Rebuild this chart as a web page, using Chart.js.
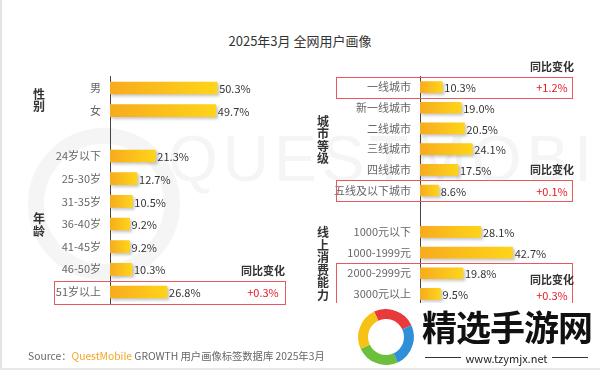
<!DOCTYPE html>
<html>
<head>
<meta charset="utf-8">
<script src="https://cdn.jsdelivr.net/npm/chart.js@4.4.1/dist/chart.umd.min.js"></script>
<style>
  body { margin: 0; background: #fff; }
  #wrap { position: relative; width: 600px; height: 371px; overflow: hidden; background: #fff;
          font-family: "Noto Sans CJK SC", "Noto Sans", sans-serif; }
  #wrap:before { content: ""; position: absolute; left: 0; top: 0; bottom: 2px; width: 2px; background: #e4e4e4; }
  #wrap:after { content: ""; position: absolute; left: 0; right: 0; bottom: 1px; height: 2px; background: #e8e8e8; }
  .ring { position: absolute; left: 28px; top: 128px; width: 120px; height: 120px; border-radius: 50%;
          border: 16px solid #f5f5f5; }
  .wm { position: absolute; left: 168px; top: 122px; font-size: 64px; letter-spacing: 5px; color: #f5f5f5;
        font-family: "Liberation Sans", sans-serif; }
  #title { position: absolute; left: 0; width: 600px; top: 31px; text-align: center; font-size: 13px; color: #333; }
  .panel { position: absolute; top: 0; width: 300px; height: 371px; }
  #source { position: absolute; left: 28px; top: 348px; font-size: 10.3px; color: #666; white-space: nowrap; }
  #source b { font-weight: normal; color: #f5a623; }
  #stamp { position: absolute; left: 330px; top: 303px; width: 270px; height: 66px; background: #fff; }
  #stamp .logo { position: absolute; left: 28px; top: 6px; width: 36px; height: 36px; border-radius: 50%;
                 border: 10px solid; border-color: #e83a3a #2f8fd8 #6cbf3a #f6c216; transform: rotate(20deg); }
  #stamp .name { position: absolute; left: 92px; top: -3px; font-size: 35px; font-weight: bold; color: #111; letter-spacing: -1px; }
  #stamp .url { position: absolute; left: 95px; top: 47px; width: 163px; text-align: center; font-size: 11px; color: #222; }
  #stamp .url:before, #stamp .url:after { content: ""; position: absolute; top: 7px; width: 36px; height: 1px; background: #333; }
  #stamp .url:before { left: 0; }
  #stamp .url:after { right: 0; }
</style>
</head>
<body>
<div id="wrap">
  <div class="ring"></div>
  <div class="wm">QUESTMOBILE</div>
  <div id="title">2025年3月 全网用户画像</div>
  <div class="panel" style="left:0"><canvas id="leftChart" width="300" height="371"></canvas></div>
  <div class="panel" style="left:300px"><canvas id="rightChart" width="300" height="371"></canvas></div>
  <div id="source">Source：<b>QuestMobile</b> GROWTH 用户画像标签数据库 2025年3月</div>
  <div id="stamp"><div class="logo"></div><div class="name">精选手游网</div><div class="url">www.tzymjx.net</div></div>
</div>
<script>
// left panel: gender + age
const leftLabels = ['男', '女', '', '24岁以下', '25-30岁', '31-35岁', '36-40岁', '41-45岁', '46-50岁', '51岁以上'];
const leftValues = [50.3, 49.7, null, 21.3, 12.7, 10.5, 9.2, 9.2, 10.3, 26.8];
const leftGroups = [['性别', '男', '女'], ['年龄', '24岁以下', '51岁以上']];
const leftChanges = [['51岁以上', '51岁以上', '+0.3%']];

// right panel: city tier + online spending
const rightLabels = ['一线城市', '新一线城市', '二线城市', '三线城市', '四线城市', '五线及以下城市', '',
                     '1000元以下', '1000-1999元', '2000-2999元', '3000元以上'];
const rightValues = [10.3, 19.0, 20.5, 24.1, 17.5, 8.6, null, 28.1, 42.7, 19.8, 9.5];
const rightGroups = [['城市等级', '一线城市', '五线及以下城市'], ['线上消费能力', '1000元以下', '3000元以上']];
const rightChanges = [['一线城市', '一线城市', '+1.2%'], ['五线及以下城市', '五线及以下城市', '+0.1%'],
                      ['2000-2999元', '3000元以上', '+0.3%']];

const FONT = '"Noto Sans CJK SC", "Noto Sans", sans-serif';

function barFill(ctx) {
  const chart = ctx.chart;
  if (!chart.chartArea || ctx.raw == null) return '#fbbf1c';
  const x = chart.scales.x;
  const g = chart.ctx.createLinearGradient(x.getPixelForValue(0), 0, x.getPixelForValue(ctx.raw), 0);
  g.addColorStop(0, '#f7ab1e');
  g.addColorStop(1, '#ffd419');
  return g;
}

const shadow = {
  id: 'shadow',
  beforeDatasetDraw(chart) {
    const c = chart.ctx;
    c.save();
    c.shadowColor = 'rgba(0,0,0,0.22)';
    c.shadowBlur = 3;
    c.shadowOffsetX = 2;
    c.shadowOffsetY = 2;
  },
  afterDatasetDraw(chart) { chart.ctx.restore(); }
};

// value labels, group titles, red yoy boxes
const extras = {
  id: 'extras',
  afterDatasetsDraw(chart, args, opts) {
    const c = chart.ctx, x = chart.scales.x, y = chart.scales.y;
    const labels = chart.data.labels, vals = chart.data.datasets[0].data;
    const rowY = name => y.getPixelForValue(labels.indexOf(name));
    const half = y.getPixelForValue(1) - y.getPixelForValue(0);
    c.save();
    c.font = '11px ' + FONT;
    c.fillStyle = '#333';
    c.textBaseline = 'middle';
    c.textAlign = 'left';
    vals.forEach((v, i) => {
      if (v == null) return;
      c.fillText(v.toFixed(1) + '%', x.getPixelForValue(v) + 2, y.getPixelForValue(i) + 1);
    });
    // group titles, stacked vertically
    c.font = 'bold 12px ' + FONT;
    c.textAlign = 'center';
    opts.groups.forEach(([t, a, b]) => {
      const mid = (rowY(a) + rowY(b)) / 2;
      const chars = t.split('');
      chars.forEach((ch, k) => {
        c.fillText(ch, opts.groupX, mid + (k - (chars.length - 1) / 2) * 12.5 + 1);
      });
    });
    // yoy boxes
    opts.changes.forEach(([a, b, txt], k) => {
      const top = rowY(a) - half / 2, bot = rowY(b) + half / 2;
      c.strokeStyle = '#e8585c';
      c.lineWidth = 1;
      c.strokeRect(opts.boxL + 0.5, Math.round(top) + 0.5, opts.boxR - opts.boxL, Math.round(bot - top));
      const inside = a !== b;
      c.font = 'bold 11px ' + FONT;
      c.fillStyle = '#333';
      c.textAlign = 'center';
      c.fillText('同比变化', opts.yoyX, inside ? rowY(a) + 7 : top - 10);
      c.font = '11px ' + FONT;
      c.fillStyle = '#e8161e';
      c.fillText(txt, opts.yoyX, inside ? rowY(b) + 2 : rowY(a) + 1);
    });
    c.restore();
  }
};

function makeChart(id, labels, values, o) {
  return new Chart(document.getElementById(id), {
    type: 'bar',
    data: {
      labels: labels,
      datasets: [{ data: values, backgroundColor: barFill, barThickness: o.thick, borderRadius: 1 }]
    },
    options: {
      indexAxis: 'y',
      responsive: false,
      animation: false,
      layout: { padding: { top: o.top, bottom: o.bottom, right: o.right, left: 0 } },
      plugins: {
        legend: { display: false },
        tooltip: { enabled: false },
        extras: o.extras
      },
      scales: {
        x: { display: false, min: 0, max: 80 },
        y: {
          afterFit: s => { s.width = o.axisX; },
          grid: { display: false, drawTicks: false },
          border: { display: true, color: '#444', width: 1 },
          ticks: { color: '#666', padding: 9, font: { family: FONT, size: 11 } }
        }
      }
    },
    plugins: [shadow, extras]
  });
}

makeChart('leftChart', leftLabels, leftValues, {
  thick: 12, top: 76.7, bottom: 67.7, right: 19.6, axisX: 110,
  extras: { groups: leftGroups, changes: leftChanges, groupX: 39, boxL: 54, boxR: 285, yoyX: 263 }
});

makeChart('rightChart', rightLabels, rightValues, {
  thick: 11, top: 76.7, bottom: 66.7, right: 6.4, axisX: 120,
  extras: { groups: rightGroups, changes: rightChanges, groupX: 23, boxL: 36, boxR: 272, yoyX: 252 }
});
</script>
</body>
</html>
